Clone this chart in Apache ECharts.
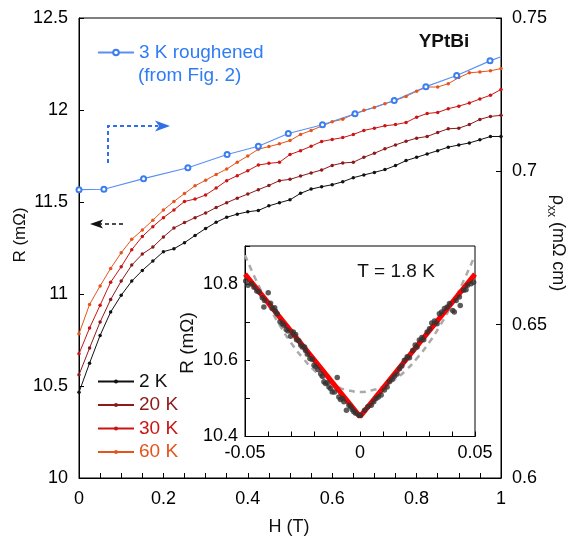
<!DOCTYPE html>
<html>
<head>
<meta charset="utf-8">
<script src="https://cdn.jsdelivr.net/npm/echarts@6/dist/echarts.min.js"></script>
<style>html,body{margin:0;padding:0;background:#fff;}#c{width:571px;height:540px;}</style>
</head>
<body>
<div id="c"></div>
<script>
// ---- data ----
const fieldH = [0,0.025,0.05,0.075,0.1,0.125,0.15,0.175,0.2,0.225,0.25,0.275,0.3,0.325,0.35,0.375,0.4,0.425,0.45,0.475,0.5,0.525,0.55,0.575,0.6,0.625,0.65,0.675,0.7,0.725,0.75,0.775,0.8,0.825,0.85,0.875,0.9,0.925,0.95,0.975,1.0];
const r2K = [10.466,10.624,10.775,10.902,10.993,11.070,11.128,11.179,11.230,11.246,11.279,11.318,11.356,11.390,11.417,11.434,11.447,11.454,11.479,11.496,11.512,11.547,11.570,11.583,11.594,11.610,11.632,11.647,11.661,11.676,11.698,11.725,11.743,11.761,11.779,11.798,11.810,11.821,11.838,11.856,11.856];
const r20K = [10.561,10.706,10.848,10.970,11.070,11.157,11.217,11.255,11.310,11.359,11.388,11.415,11.440,11.470,11.496,11.521,11.543,11.567,11.590,11.616,11.623,11.641,11.658,11.674,11.699,11.712,11.716,11.743,11.765,11.789,11.810,11.830,11.847,11.856,11.878,11.898,11.901,11.921,11.949,11.965,11.971];
const r30K = [10.675,10.815,10.939,11.064,11.148,11.241,11.312,11.366,11.415,11.457,11.503,11.516,11.538,11.576,11.616,11.643,11.670,11.701,11.710,11.716,11.758,11.779,11.803,11.829,11.840,11.850,11.867,11.889,11.901,11.914,11.921,11.932,11.961,11.981,11.987,12.007,12.021,12.038,12.060,12.080,12.112];
const r60K = [10.784,10.943,11.044,11.139,11.224,11.297,11.348,11.401,11.456,11.503,11.546,11.588,11.618,11.650,11.679,11.716,11.750,11.787,11.801,11.816,11.834,11.867,11.889,11.912,11.936,11.950,11.976,11.998,12.013,12.034,12.052,12.074,12.102,12.125,12.125,12.143,12.176,12.202,12.207,12.213,12.225];
const rough3K_H = [0,0.059,0.153,0.258,0.351,0.425,0.496,0.577,0.654,0.747,0.822,0.895,0.974,1.0];
const rough3K_R = [11.567,11.569,11.627,11.686,11.758,11.803,11.872,11.920,11.980,12.052,12.127,12.187,12.267,12.290];

// inset (T = 1.8 K)
const insetH = [-0.0497,-0.0487,-0.0473,-0.0461,-0.0449,-0.0439,-0.0425,-0.0415,-0.0418,-0.0399,-0.0389,-0.0381,-0.0371,-0.0367,-0.0360,-0.0348,-0.0338,-0.0331,-0.0321,-0.0313,-0.0302,-0.0290,-0.0280,-0.0276,-0.0266,-0.0258,-0.0251,-0.0241,-0.0237,-0.0229,-0.0218,-0.0208,-0.0200,-0.0193,-0.0183,-0.0171,-0.0164,-0.0157,-0.0150,-0.0143,-0.0135,-0.0128,-0.0121,-0.0111,-0.0099,-0.0092,-0.0085,-0.0076,-0.0070,-0.0059,-0.0048,-0.0041,-0.0034,-0.0027,-0.0019,-0.0005,
  0.0002,0.0020,0.0034,0.0049,0.0060,0.0070,0.0080,0.0092,0.0106,0.0118,0.0128,0.0140,0.0150,0.0161,0.0172,0.0182,0.0193,0.0205,0.0215,0.0229,0.0240,0.0248,0.0258,0.0269,0.0277,0.0292,0.0302,0.0312,0.0324,0.0335,0.0345,0.0355,0.0367,0.0379,0.0389,0.0403,0.0410,0.0418,0.0432,0.0436,0.0451,0.0461,0.0468,0.0483,0.0494];
const insetR = [10.808,10.797,10.801,10.792,10.782,10.779,10.764,10.757,10.740,10.777,10.750,10.736,10.738,10.729,10.722,10.701,10.696,10.692,10.681,10.677,10.663,10.674,10.668,10.654,10.651,10.640,10.635,10.635,10.626,10.616,10.605,10.602,10.587,10.583,10.576,10.565,10.558,10.544,10.539,10.541,10.530,10.526,10.517,10.517,10.555,10.504,10.497,10.500,10.491,10.469,10.482,10.478,10.471,10.465,10.461,10.456,
  10.456,10.469,10.478,10.482,10.491,10.500,10.504,10.509,10.522,10.530,10.544,10.550,10.558,10.564,10.578,10.585,10.600,10.609,10.607,10.626,10.640,10.635,10.653,10.660,10.654,10.674,10.683,10.698,10.703,10.696,10.722,10.727,10.736,10.740,10.749,10.731,10.727,10.757,10.766,10.744,10.784,10.785,10.797,10.801,10.805];
const fitLinH = [-0.05,0,0.05];
const fitLinR = [10.826,10.452,10.826];
const fitParH = [-0.05,-0.045,-0.04,-0.035,-0.03,-0.025,-0.02,-0.015,-0.01,-0.005,0,0.005,0.01,0.015,0.02,0.025,0.03,0.035,0.04,0.045,0.05];
const fitParR = [10.876,10.808,10.747,10.693,10.646,10.607,10.574,10.549,10.531,10.521,10.517,10.521,10.531,10.549,10.574,10.607,10.646,10.693,10.747,10.808,10.876];

const FONT = 'Liberation Sans, Arial, sans-serif';
const pair = (xs, ys) => xs.map((x, i) => [x, ys[i]]);

const chart = echarts.init(document.getElementById('c'), null, {renderer: 'canvas'});

const axisCommon = {
  axisLine: {show: true, onZero: false, lineStyle: {color: '#000', width: 1}},
  axisTick: {show: true, inside: true, length: 5, lineStyle: {color: '#000', width: 1}},
  splitLine: {show: false},
  axisLabel: {color: '#000', fontSize: 18, fontFamily: FONT}
};
function ax(extra) {
  const o = JSON.parse(JSON.stringify(axisCommon));
  return Object.assign(o, extra, {
    axisLabel: Object.assign(o.axisLabel, extra.axisLabel || {})
  });
}

const BLUE = '#3a7ef0';
const blueRough = pair(rough3K_H, rough3K_R).map((p, i, arr) =>
  i === arr.length - 1 ? {value: p, symbol: 'none'} : p);

const option = {
  animation: false,
  backgroundColor: '#fff',
  grid: [
    {left: 79, top: 18, width: 422, height: 460, show: true, borderColor: '#000', borderWidth: 1, backgroundColor: 'transparent'},
    {left: 245, top: 246, width: 230, height: 190.5, show: true, borderColor: '#000', borderWidth: 1, backgroundColor: '#fff'}
  ],
  xAxis: [
    ax({gridIndex: 0, type: 'value', min: 0, max: 1, interval: 0.05,
      axisLabel: {margin: 12, formatter: v => (Math.round(v * 100) % 20 === 0 ? String(+v.toFixed(2)) : '')}}),
    ax({gridIndex: 1, type: 'value', min: -0.05, max: 0.05, interval: 0.01,
      axisLabel: {margin: 8, formatter: v => {
        const k = Math.round(v * 100);
        if (k % 5 !== 0) return '';
        return k === 0 ? '0' : (k < 0 ? '-0.05' : '0.05');
      }}})
  ],
  yAxis: [
    ax({gridIndex: 0, type: 'value', min: 10, max: 12.5, interval: 0.5, position: 'left',
      axisLabel: {margin: 11}}),
    ax({gridIndex: 0, type: 'value', min: 0.6, max: 0.75, interval: 0.05, position: 'right',
      axisLabel: {margin: 11, formatter: v => String(+v.toFixed(2))}}),
    ax({gridIndex: 1, type: 'value', min: 10.4, max: 10.9, interval: 0.1,
      axisLabel: {margin: 7, formatter: v => {
        const k = Math.round(v * 10);
        return (k % 2 === 0 && k < 109) ? v.toFixed(1) : '';
      }}})
  ],
  legend: [
    {data: ['3 K roughened'], left: 97, top: 43, padding: 0, itemWidth: 36, itemHeight: 7, selectedMode: false,
      textStyle: {color: '#2f7cf6', fontSize: 19, fontFamily: FONT}},
    {data: [
        {name: '2 K', textStyle: {color: '#111'}},
        {name: '20 K', textStyle: {color: '#8c1a1a'}},
        {name: '30 K', textStyle: {color: '#cc1414'}},
        {name: '60 K', textStyle: {color: '#e5541c'}}
      ],
      orient: 'vertical', left: 97, top: 372, padding: 0, itemGap: 4.5, itemWidth: 36, itemHeight: 5, selectedMode: false,
      textStyle: {fontSize: 19, fontFamily: FONT}}
  ],
  series: [
    {name: '2 K', type: 'line', xAxisIndex: 0, yAxisIndex: 0, data: pair(fieldH, r2K),
      symbol: 'circle', symbolSize: 3.5, color: '#111', lineStyle: {width: 1, color: '#111'}},
    {name: '20 K', type: 'line', xAxisIndex: 0, yAxisIndex: 0, data: pair(fieldH, r20K),
      symbol: 'circle', symbolSize: 3.5, color: '#8c1a1a', lineStyle: {width: 1, color: '#8c1a1a'}},
    {name: '30 K', type: 'line', xAxisIndex: 0, yAxisIndex: 0, data: pair(fieldH, r30K),
      symbol: 'circle', symbolSize: 3.5, color: '#cc1414', lineStyle: {width: 1, color: '#cc1414'}},
    {name: '60 K', type: 'line', xAxisIndex: 0, yAxisIndex: 0, data: pair(fieldH, r60K),
      symbol: 'circle', symbolSize: 3.5, color: '#e5541c', lineStyle: {width: 1, color: '#e5541c'}},
    {name: '3 K roughened', type: 'line', xAxisIndex: 0, yAxisIndex: 0, data: blueRough,
      symbol: 'emptyCircle', symbolSize: 5, color: BLUE,
      itemStyle: {color: BLUE, borderColor: BLUE, borderWidth: 1.2},
      lineStyle: {width: 1.1, color: '#5a90f2'}, z: 3},
    {name: 'parabola', type: 'line', xAxisIndex: 1, yAxisIndex: 2, data: pair(fitParH, fitParR),
      symbol: 'none', smooth: true, lineStyle: {width: 2.5, color: '#aaaaaa', type: [6, 5]}, z: 4},
    {name: 'linear', type: 'line', xAxisIndex: 1, yAxisIndex: 2, data: pair(fitLinH, fitLinR),
      symbol: 'none', lineStyle: {width: 5, color: '#ff0000'}, z: 5},
    {name: 'data18', type: 'scatter', xAxisIndex: 1, yAxisIndex: 2, data: pair(insetH, insetR),
      symbol: 'circle', symbolSize: 5.5, itemStyle: {color: '#333'}, z: 6}
  ],
  graphic: [
    {type: 'text', left: 138, top: 66, style: {text: '(from Fig. 2)', fontSize: 19, fontFamily: FONT, fill: '#2f7cf6'}},
    {type: 'text', x: 444, y: 42, style: {text: 'YPtBi', fontSize: 19, fontWeight: 'bold', fontFamily: FONT, fill: '#111', align: 'center', verticalAlign: 'middle'}},
    {type: 'text', x: 20, y: 235, rotation: Math.PI / 2, style: {text: 'R (mΩ)', fontSize: 17, fontFamily: FONT, fill: '#111', align: 'center', verticalAlign: 'middle'}},
    {type: 'text', x: 289, y: 527, style: {text: 'H (T)', fontSize: 18, fontFamily: FONT, fill: '#111', align: 'center', verticalAlign: 'middle'}},
    {type: 'text', x: 558, y: 243, rotation: -Math.PI / 2, style: {
      text: '{r|ρ}{s|xx}{r| (mΩ cm)}', align: 'center', verticalAlign: 'middle',
      rich: {
        r: {fontSize: 18, fontFamily: FONT, fill: '#111', lineHeight: 26, verticalAlign: 'middle'},
        s: {fontSize: 12, fontFamily: FONT, fill: '#111', lineHeight: 26, verticalAlign: 'bottom'}
      }}},
    {type: 'text', x: 188, y: 343, rotation: Math.PI / 2, style: {text: 'R (mΩ)', fontSize: 19, fontFamily: FONT, fill: '#111', align: 'center', verticalAlign: 'middle'}},
    {type: 'text', x: 396, y: 272, style: {text: 'T = 1.8 K', fontSize: 19, fontFamily: FONT, fill: '#111', align: 'center', verticalAlign: 'middle'}},
    // blue dashed arrow
    {type: 'polyline', shape: {points: [[108, 163], [108, 126], [158, 126]]}, style: {stroke: '#2f6fe8', lineWidth: 2, lineDash: [4, 3], fill: null}},
    {type: 'polygon', shape: {points: [[170, 126], [155, 120.5], [159, 126], [155, 131.5]]}, style: {fill: '#2f6fe8'}},
    // black dashed arrow
    {type: 'polyline', shape: {points: [[123, 224], [99, 224]]}, style: {stroke: '#111', lineWidth: 1.6, lineDash: [4, 3], fill: null}},
    {type: 'polygon', shape: {points: [[90, 224], [103, 219.5], [100, 224], [103, 228.5]]}, style: {fill: '#111'}}
  ]
};
chart.setOption(option);
</script>
</body>
</html>
